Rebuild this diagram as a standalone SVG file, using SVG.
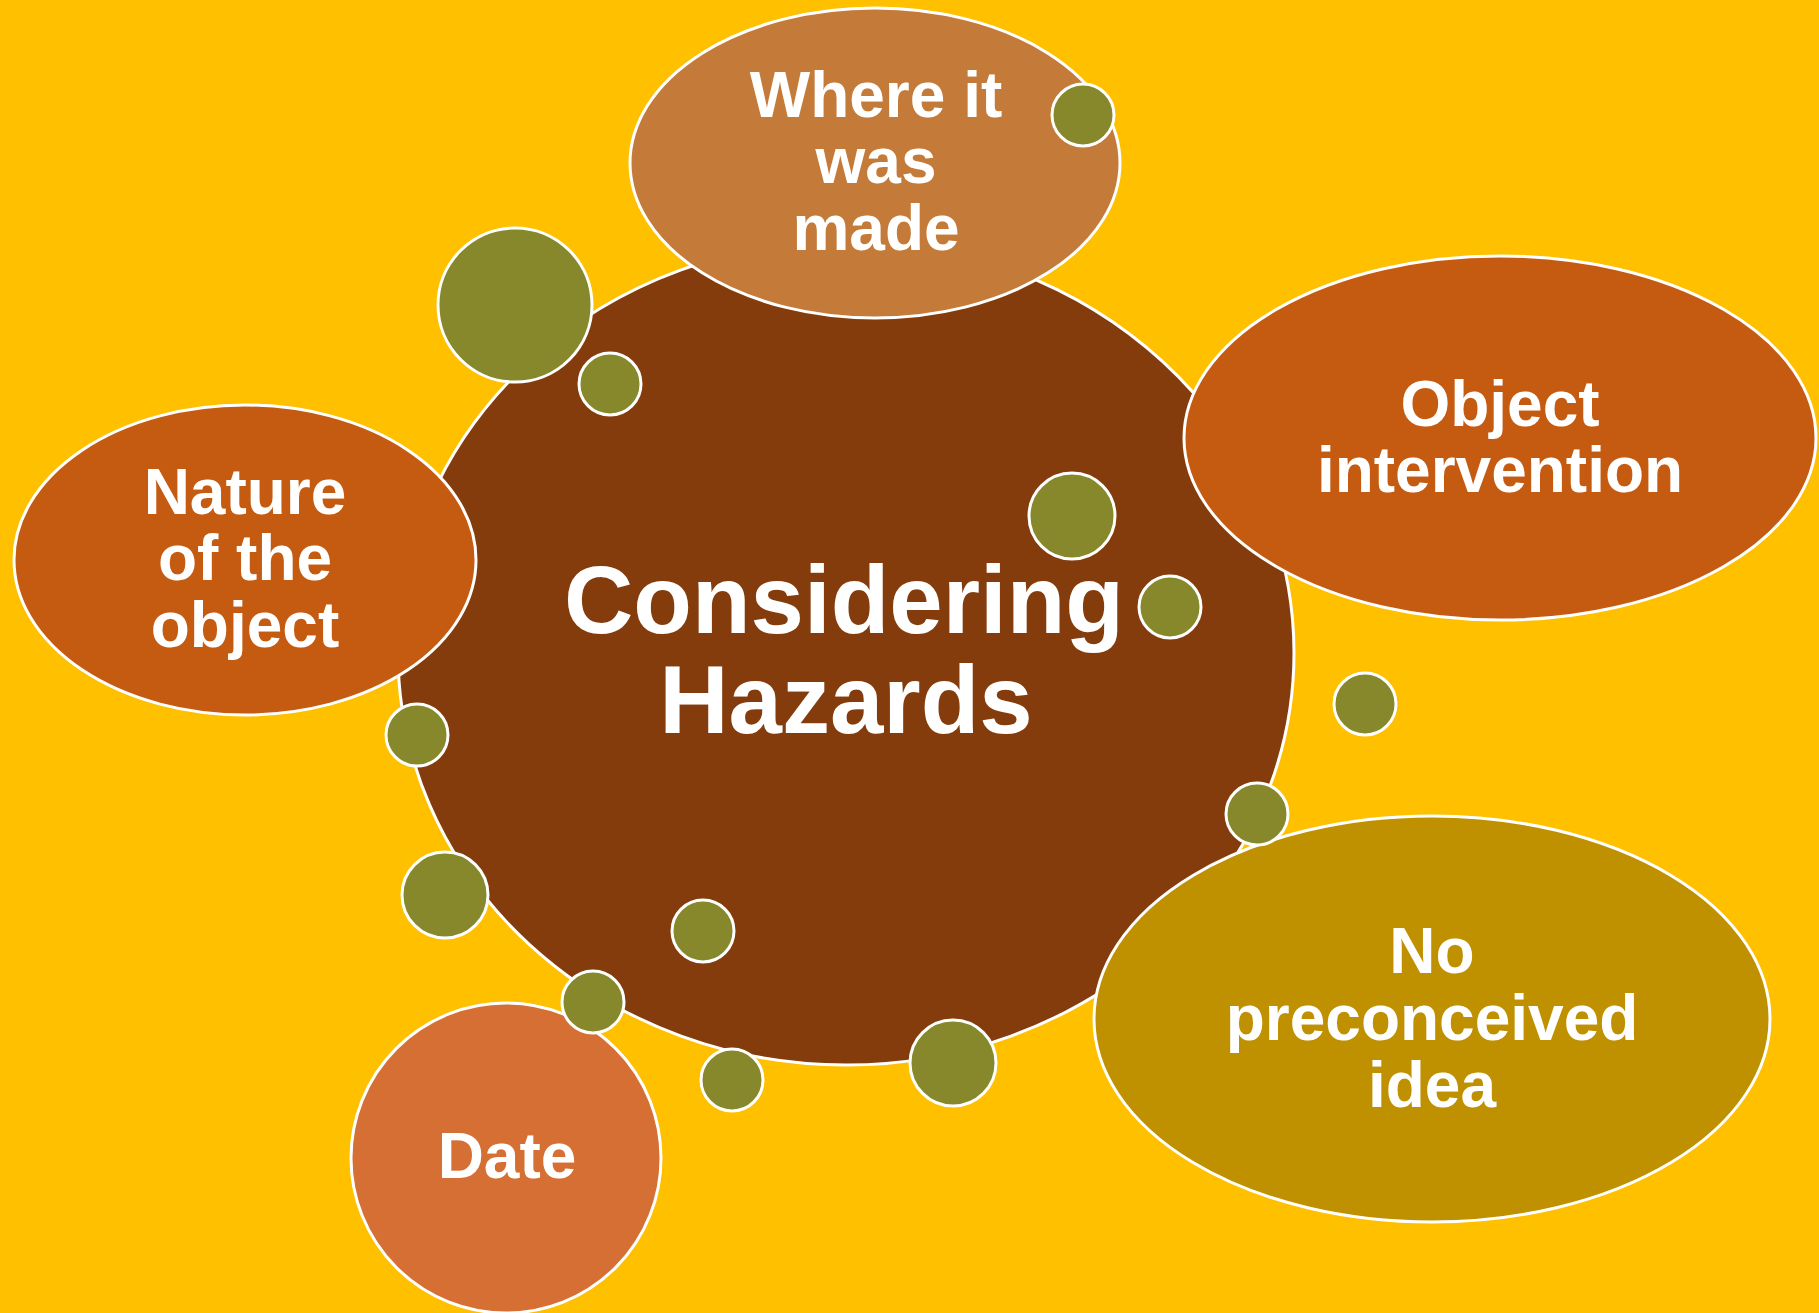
<svg xmlns="http://www.w3.org/2000/svg" width="1819" height="1313" viewBox="0 0 1819 1313">
<style>
.shape{stroke:#FFFFFF;stroke-width:3}
.dot{fill:#86882B;stroke:#FFFFFF;stroke-width:3}
.lbl{font-family:"Liberation Sans",Arial,sans-serif;font-weight:bold;fill:#FFFFFF;text-anchor:middle;font-size:64px}
.big{font-size:96px}
</style>
<rect x="0" y="0" width="1819" height="1313" fill="#FFC000"/>
<g id="center">
<ellipse class="shape" cx="846" cy="653" rx="448" ry="412" fill="#843C0C"/>
</g>
<g id="connectors"></g>
<g id="where">
<ellipse class="shape" cx="875" cy="163" rx="245" ry="155" fill="#C47B3A"/>
<text class="lbl" x="876" y="117">Where it</text>
<text class="lbl" x="876" y="183">was</text>
<text class="lbl" x="876" y="250">made</text>
</g>
<g id="nature">
<ellipse class="shape" cx="245" cy="560" rx="231" ry="155" fill="#C55A11"/>
<text class="lbl" x="245" y="514">Nature</text>
<text class="lbl" x="245" y="580">of the</text>
<text class="lbl" x="245" y="647">object</text>
</g>
<g id="intervention">
<ellipse class="shape" cx="1500" cy="438" rx="316" ry="182" fill="#C55A11"/>
<text class="lbl" x="1500" y="426">Object</text>
<text class="lbl" x="1500" y="492">intervention</text>
</g>
<g id="preconceived">
<ellipse class="shape" cx="1432" cy="1019" rx="338" ry="203" fill="#BF9000"/>
<text class="lbl" x="1432" y="973">No</text>
<text class="lbl" x="1432" y="1040">preconceived</text>
<text class="lbl" x="1432" y="1107">idea</text>
</g>
<g id="date">
<circle class="shape" cx="506" cy="1158" r="155" fill="#D66F33"/>
<text class="lbl" x="507" y="1178">Date</text>
</g>
<g id="title">
<text class="lbl big" x="844" y="633">Considering</text>
<text class="lbl big" x="846" y="733">Hazards</text>
</g>
<g id="dots">
<circle class="dot" cx="1083" cy="115" r="31"/>
<circle class="dot" cx="515" cy="305" r="77"/>
<circle class="dot" cx="610" cy="384" r="31"/>
<circle class="dot" cx="1072" cy="516" r="43"/>
<circle class="dot" cx="1170" cy="607" r="31"/>
<circle class="dot" cx="1365" cy="704" r="31"/>
<circle class="dot" cx="1257" cy="814" r="31"/>
<circle class="dot" cx="417" cy="735" r="31"/>
<circle class="dot" cx="445" cy="895" r="43"/>
<circle class="dot" cx="703" cy="931" r="31"/>
<circle class="dot" cx="593" cy="1002" r="31"/>
<circle class="dot" cx="732" cy="1080" r="31"/>
<circle class="dot" cx="953" cy="1063" r="43"/>
</g>
</svg>
